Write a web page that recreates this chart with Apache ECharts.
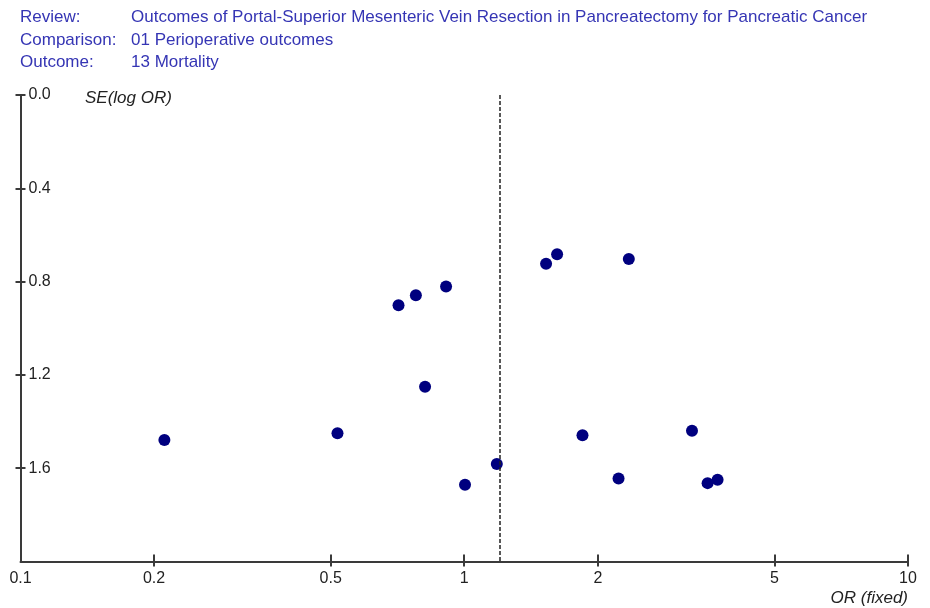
<!DOCTYPE html>
<html>
<head>
<meta charset="utf-8">
<script src="https://cdn.jsdelivr.net/npm/echarts@6/dist/echarts.min.js"></script>
<style>
html, body { margin: 0; padding: 0; background: #fff; }
#main { width: 930px; height: 608px; }
</style>
</head>
<body>
<div id="main"></div>
<script>
// header lines
var headKeys = ['Review:', 'Comparison:', 'Outcome:'];
var headVals = [
    'Outcomes of Portal-Superior Mesenteric Vein Resection in Pancreatectomy for Pancreatic Cancer',
    '01 Perioperative outcomes',
    '13 Mortality'
];
// one entry per study: odds ratio and SE(log OR)
var oddsRatio = [0.211, 0.518, 0.711, 0.778, 0.910, 0.816, 1.004, 1.184, 1.529, 1.619, 2.349, 1.847, 2.227, 3.26, 3.535, 3.723];
var seLogOR   = [1.479, 1.450, 0.901, 0.859, 0.821, 1.251, 1.671, 1.582, 0.723, 0.683, 0.703, 1.459, 1.644, 1.439, 1.664, 1.650];
// pooled fixed effect OR (dashed line)
var pooledOR = 1.2;
// axis ticks (the corner 0.1 / 2.0 gets a label only)
var xLabels = [0.1, 0.2, 0.5, 1, 2, 5, 10];
var xTickMarks = [0.2, 0.5, 1, 2, 5, 10];
var yTicks = [0, 0.4, 0.8, 1.2, 1.6];
var yMin = 0, yMax = 2;

var axisColor = '#3a3a3a';
var textColor = '#222';
var headColor = '#3535b4';
var fontFam = '"Liberation Sans", Arial, sans-serif';

var points = [];
for (var i = 0; i < oddsRatio.length; i++) {
    points.push([oddsRatio[i], seLogOR[i]]);
}

// grid box
var gLeft = 20.5, gRight = 22, gTop = 95, gBottom = 46.5;
var gHeight = 608 - gTop - gBottom;

var graphics = [];
for (var k = 0; k < headKeys.length; k++) {
    graphics.push({
        type: 'text', left: 20, top: 9 + k * 22.5,
        style: { text: headKeys[k], fill: headColor, font: '17px ' + fontFam }
    });
    graphics.push({
        type: 'text', left: 131, top: 9 + k * 22.5,
        style: { text: headVals[k], fill: headColor, font: '17px ' + fontFam }
    });
}
graphics.push({
    type: 'text', left: 85, top: 90,
    style: { text: 'SE(log OR)', fill: textColor, font: 'italic 17px ' + fontFam }
});
graphics.push({
    type: 'text', right: 22, top: 590,
    style: { text: 'OR (fixed)', fill: textColor, font: 'italic 17px ' + fontFam }
});

var myChart = echarts.init(document.getElementById('main'));

var option = {
    animation: false,
    backgroundColor: '#fff',
    grid: { left: gLeft, right: gRight, top: gTop, bottom: gBottom, containLabel: false },
    xAxis: [{
        type: 'log', logBase: 10, min: 0.1, max: 10, position: 'bottom',
        axisLine: { show: true, onZero: false, lineStyle: { color: axisColor, width: 2 } },
        axisTick: { show: true, inside: false, length: 5, customValues: xTickMarks, lineStyle: { color: axisColor, width: 2 } },
        axisLabel: {
            show: true, customValues: xLabels, margin: 9,
            color: textColor, fontSize: 16, fontFamily: fontFam,
            formatter: function (v) { return String(+v.toPrecision(3)); }
        },
        splitLine: { show: false }, minorTick: { show: false }
    }, {
        // upper half of the crossing ticks, moved down onto the bottom line
        type: 'log', logBase: 10, min: 0.1, max: 10, position: 'top', offset: -gHeight,
        axisLine: { show: false, onZero: false },
        axisTick: { show: true, inside: false, length: 7, customValues: xTickMarks, lineStyle: { color: axisColor, width: 2 } },
        axisLabel: { show: false },
        splitLine: { show: false }
    }],
    yAxis: [{
        type: 'value', inverse: true, min: yMin, max: yMax,
        axisLine: { show: true, onZero: false, lineStyle: { color: axisColor, width: 2 } },
        axisTick: { show: true, inside: false, length: 5, customValues: yTicks, lineStyle: { color: axisColor, width: 2 } },
        axisLabel: {
            show: true, inside: true, margin: 8, customValues: yTicks,
            color: textColor, fontSize: 16, fontFamily: fontFam,
            formatter: function (v) { return v.toFixed(1); }
        },
        splitLine: { show: false }
    }, {
        type: 'value', inverse: true, min: yMin, max: yMax, position: 'left',
        axisLine: { show: false, onZero: false },
        axisTick: { show: true, inside: true, length: 5, customValues: yTicks, lineStyle: { color: axisColor, width: 2 } },
        axisLabel: { show: false },
        splitLine: { show: false }
    }],
    graphic: graphics,
    series: [{
        type: 'scatter',
        xAxisIndex: 0, yAxisIndex: 0,
        data: points,
        symbol: 'circle',
        symbolSize: 12,
        itemStyle: { color: '#00007f', opacity: 1 },
        markLine: {
            silent: true, symbol: 'none', label: { show: false },
            lineStyle: { color: '#222', type: [4, 2], width: 1.5 },
            data: [{ xAxis: pooledOR }]
        }
    }]
};
myChart.setOption(option);
</script>
</body>
</html>
